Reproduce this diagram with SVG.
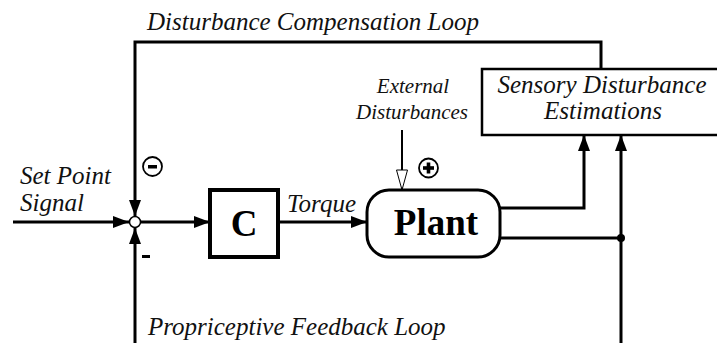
<svg xmlns="http://www.w3.org/2000/svg" width="717" height="343" viewBox="0 0 717 343">
<style>
.lbl{font-family:'Liberation Serif','DejaVu Serif',serif;font-style:italic;font-size:25px;fill:#111}
.sm{font-size:21px}
.big{font-family:'Liberation Serif','DejaVu Serif',serif;font-weight:bold;font-size:37px;fill:#000}
.ln{fill:none;stroke:#000;stroke-width:3}
.box{fill:#fff;stroke:#000}
</style>
<defs>
<marker id="ah" markerUnits="userSpaceOnUse" markerWidth="16" markerHeight="12" viewBox="0 0 16 12" refX="16" refY="6" orient="auto">
<path d="M0,0 L16,6 L0,12 Z" fill="#000"/>
</marker>
<marker id="hollow" markerUnits="userSpaceOnUse" markerWidth="22" markerHeight="13" viewBox="0 0 22 13" refX="21" refY="6.5" orient="auto">
<path d="M1,1 L21,6.5 L1,12 Z" fill="#fff" stroke="#000" stroke-width="1"/>
</marker>
</defs>
<rect width="717" height="343" fill="#fff"/>
<g id="connectors">
<polyline class="ln" points="601,69 601,42 135,42 135,216" marker-end="url(#ah)"/>
<line class="ln" x1="13" y1="222" x2="129" y2="222" marker-end="url(#ah)"/>
<line class="ln" x1="135" y1="343" x2="135" y2="228" marker-end="url(#ah)"/>
<line class="ln" x1="141" y1="222" x2="210" y2="222" marker-end="url(#ah)"/>
<line class="ln" x1="278" y1="222" x2="367" y2="222" marker-end="url(#ah)"/>
<line stroke="#000" stroke-width="2" x1="402" y1="130" x2="402" y2="190" marker-end="url(#hollow)"/>
<polyline class="ln" points="500,208 584,208 584,135" marker-end="url(#ah)"/>
<line class="ln" x1="500" y1="238" x2="621" y2="238"/>
<line class="ln" x1="621" y1="343" x2="621" y2="135" marker-end="url(#ah)"/>
<circle cx="621" cy="238" r="4" fill="#000"/>
</g>
<g id="sum">
<circle cx="135" cy="222" r="5.5" fill="#fff" stroke="#000" stroke-width="1.5"/>
<circle cx="152.5" cy="166.5" r="9.5" fill="#fff" stroke="#000" stroke-width="1.8"/>
<rect x="148" y="165" width="9" height="3.5" fill="#000"/>
<rect x="142" y="255" width="8" height="3" fill="#000"/>
</g>
<g id="plus">
<circle cx="428.5" cy="168" r="9.5" fill="#fff" stroke="#000" stroke-width="1.8"/>
<rect x="423" y="166.2" width="11" height="3.6" fill="#000"/>
<rect x="426.7" y="162.5" width="3.6" height="11" fill="#000"/>
</g>
<g id="controller">
<rect class="box" x="210" y="190" width="68" height="67" stroke-width="4"/>
<text class="big" x="244" y="236" text-anchor="middle">C</text>
</g>
<g id="plant">
<rect class="box" x="367" y="190" width="133" height="67" rx="22" stroke-width="3"/>
<text class="big" x="436" y="235" text-anchor="middle">Plant</text>
</g>
<g id="estimator">
<rect class="box" x="482" y="69" width="245" height="66" stroke-width="2.5"/>
<text class="lbl" x="602" y="93" text-anchor="middle">Sensory Disturbance</text>
<text class="lbl" x="603" y="119" text-anchor="middle">Estimations</text>
</g>
<g id="labels">
<text class="lbl" x="147" y="30">Disturbance Compensation Loop</text>
<text class="lbl sm" x="413" y="93" text-anchor="middle">External</text>
<text class="lbl sm" x="412" y="119" text-anchor="middle">Disturbances</text>
<text class="lbl" x="20" y="184">Set Point</text>
<text class="lbl" x="20" y="211">Signal</text>
<text class="lbl" x="287" y="212">Torque</text>
<text class="lbl" x="148" y="335">Propriceptive Feedback Loop</text>
</g>
</svg>
